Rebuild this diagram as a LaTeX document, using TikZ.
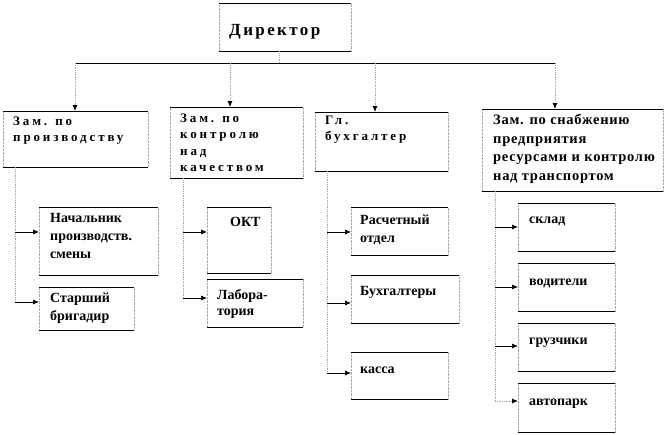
\documentclass[tikz,border=0pt]{standalone}
\usepackage{fontspec}
\setmainfont{Liberation Serif}
\newfontfamily\wideface[LetterSpace=22]{Liberation Serif}
\newfontfamily\dirface[LetterSpace=14]{Liberation Serif}
\newfontfamily\snabface[LetterSpace=5]{Liberation Serif}
\usetikzlibrary{positioning, arrows.meta, calc}

\tikzset{
  box/.style={rectangle, draw=gray!70, densely dotted, inner sep=0pt, anchor=north west,
    append after command={(\tikzlastnode.north west) edge[solid, draw=black, line width=0.7pt] (\tikzlastnode.north east)
      (\tikzlastnode.south west) edge[solid, draw=black, line width=0.7pt] (\tikzlastnode.south east)}},
  lbl/.style={anchor=north west, inner sep=0pt, align=left, execute at begin node=\strut,
    font=\bfseries\fontsize{14}{18}\selectfont},
  widelbl/.style={lbl, font=\bfseries\wideface\fontsize{13}{16.5}\selectfont},
  vline/.style={draw=gray!70, densely dotted, line width=0.8pt},
  hline/.style={draw=black, line width=0.7pt},
  tip/.style={-{Latex[black, length=6pt, width=5pt]}},
}

\begin{document}
\begin{tikzpicture}[x=1pt, y=-1pt]
\useasboundingbox (0,0) rectangle (666,434);
% top level
\node[box, minimum width=132pt, minimum height=48pt] (dir) at (219,3) {};
\node[box, minimum width=145pt, minimum height=56pt] (zam1) at (3,111) {};
\node[box, minimum width=133pt, minimum height=71pt] (zam2) at (170,107) {};
\node[box, minimum width=133pt, minimum height=59pt] (zam3) at (315,112) {};
\node[box, minimum width=181pt, minimum height=82pt] (zam4) at (482,109) {};
% subordinates
\node[box, minimum width=119pt, minimum height=68pt] (k11) at (39,207) {};
\node[box, minimum width=95pt, minimum height=43pt] (k12) at (39,287) {};
\node[box, minimum width=64pt, minimum height=66pt] (k21) at (207,207) {};
\node[box, minimum width=96pt, minimum height=48pt] (k22) at (207,279) {};
\node[box, minimum width=97pt, minimum height=48pt] (k31) at (351,207) {};
\node[box, minimum width=108pt, minimum height=48pt] (k32) at (351,275) {};
\node[box, minimum width=97pt, minimum height=47pt] (k33) at (351,352) {};
\node[box, minimum width=97pt, minimum height=48pt] (k41) at (518,203) {};
\node[box, minimum width=97pt, minimum height=48pt] (k42) at (518,263) {};
\node[box, minimum width=97pt, minimum height=48pt] (k43) at (518,323) {};
\node[box, minimum width=97pt, minimum height=49pt] (k44) at (518,383) {};
% texts
\node[lbl, font=\bfseries\dirface\fontsize{17}{20}\selectfont] (tdir) at ($(dir.north west)+(10,18)$) {Директор};
\node[widelbl] (t1) at ($(zam1.north west)+(10,5.5)$) {Зам. по\\производству};
\node[widelbl] (t2) at ($(zam2.north west)+(10,6.5)$) {Зам. по\\контролю\\над\\качеством};
\node[widelbl] (t3) at ($(zam3.north west)+(10,3.5)$) {Гл.\\бухгалтер};
\node[lbl, font=\bfseries\snabface\fontsize{14.5}{18.7}\selectfont] (t4) at ($(zam4.north west)+(11,5)$) {Зам. по снабжению\\предприятия\\ресурсами и контролю\\над транспортом};
\node[lbl] (t11) at ($(k11.north west)+(11,6.4)$) {Начальник\\производств.\\смены};
\node[lbl] (t12) at ($(k12.north west)+(11,5.4)$) {Старший\\бригадир};
\node[lbl] (t21) at ($(k21.north west)+(23,6.4)$) {ОКТ};
\node[lbl, font=\bfseries\fontsize{14}{16}\selectfont] (t22) at ($(k22.north west)+(10,9.8)$) {Лабора-\\тория};
\node[lbl] (t31) at ($(k31.north west)+(9,7.4)$) {Расчетный\\отдел};
\node[lbl] (t32) at ($(k32.north west)+(9,7.4)$) {Бухгалтеры};
\node[lbl] (t33) at ($(k33.north west)+(9,8.4)$) {касса};
\node[lbl] (t41) at ($(k41.north west)+(11,7.4)$) {склад};
\node[lbl] (t42) at ($(k42.north west)+(11,9.4)$) {водители};
\node[lbl] (t43) at ($(k43.north west)+(11,8.4)$) {грузчики};
\node[lbl] (t44) at ($(k44.north west)+(11,9.4)$) {автопарк};
% bus
\coordinate (d0) at ($(dir.south)+(-6,12)$);
\coordinate (b1) at (75,63);
\coordinate (b2) at (230,63);
\coordinate (b3) at (375,63);
\coordinate (b4) at (555,63);
\draw[vline] ($(dir.south)+(-6,0)$) -- (d0);
\draw[hline] (b1) -- (b4);
\draw[vline, tip] (b1) -- (b1 |- zam1.north);
\draw[vline, tip] (b2) -- (b2 |- zam2.north);
\draw[vline, tip] (b3) -- (b3 |- zam3.north);
\draw[vline, tip] (b4) -- (b4 |- zam4.north);
% arrow targets
\coordinate (a11) at ($(k11.north west)+(0,25)$);
\coordinate (a12) at ($(k12.north west)+(0,15)$);
\coordinate (a21) at ($(k21.north west)+(0,25)$);
\coordinate (a22) at ($(k22.north west)+(0,19)$);
\coordinate (a31) at ($(k31.north west)+(0,25)$);
\coordinate (a32) at ($(k32.north west)+(0,28)$);
\coordinate (a33) at ($(k33.north west)+(0,21)$);
\coordinate (a41) at ($(k41.north west)+(0,24)$);
\coordinate (a42) at ($(k42.north west)+(0,24)$);
\coordinate (a43) at ($(k43.north west)+(0,23)$);
\coordinate (a44) at ($(k44.north west)+(0,18)$);
% trunks
\coordinate (r1) at ($(zam1.south west)+(12,0)$);
\coordinate (r2) at ($(zam2.south west)+(13,0)$);
\coordinate (r3) at ($(zam3.south west)+(12,0)$);
\coordinate (r4) at ($(zam4.south west)+(13,0)$);
\draw[vline] (r1) -- (r1 |- a12);
\draw[vline] (r2) -- (r2 |- a22);
\draw[vline] (r3) -- (r3 |- a33);
\draw[vline] (r4) -- (r4 |- a44);
\foreach \k/\r in {11/1, 12/1, 21/2, 22/2, 31/3, 32/3, 33/3, 41/4, 42/4, 43/4}
  \draw[hline, tip] (r\r |- a\k) -- (a\k);
\draw[vline, tip] (r4 |- a44) -- (a44);
\end{tikzpicture}
\end{document}
